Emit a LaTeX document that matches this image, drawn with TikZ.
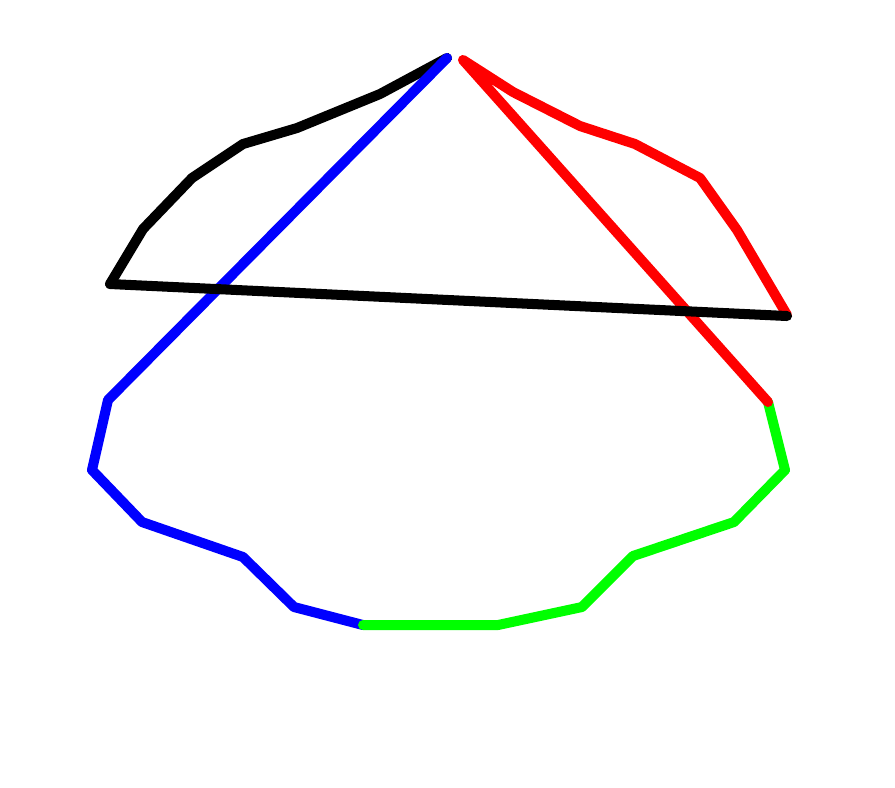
\documentclass[tikz,border=0pt]{standalone}

\begin{document}
\begin{tikzpicture}[x=0.01cm,y=-0.01cm,line cap=round,line join=round,every path/.style={line width=2.85pt}]
  \useasboundingbox (0,0) rectangle (895,787);
  % 黑色上弧
  \draw[black] (447,58) -- (380,94) -- (297,128) -- (243,144) -- (192,178) -- (143,229) -- (110,284);
  % 蓝色左支
  \draw[blue] (447,58) -- (108,400) -- (92,470) -- (142,522) -- (243,557) -- (294,607) -- (363,625);
  % 绿色下弧
  \draw[green] (363,625) -- (498,625) -- (582,607) -- (633,556) -- (734,522) -- (785,470) -- (768,402);
  % 红色右支
  \draw[red] (768,402) -- (463,60) -- (513,92) -- (580,126) -- (635,144) -- (700,178) -- (737,230) -- (787,315);
  % 黑色横线
  \draw[black] (110,284) -- (787,316);
\end{tikzpicture}
\end{document}
